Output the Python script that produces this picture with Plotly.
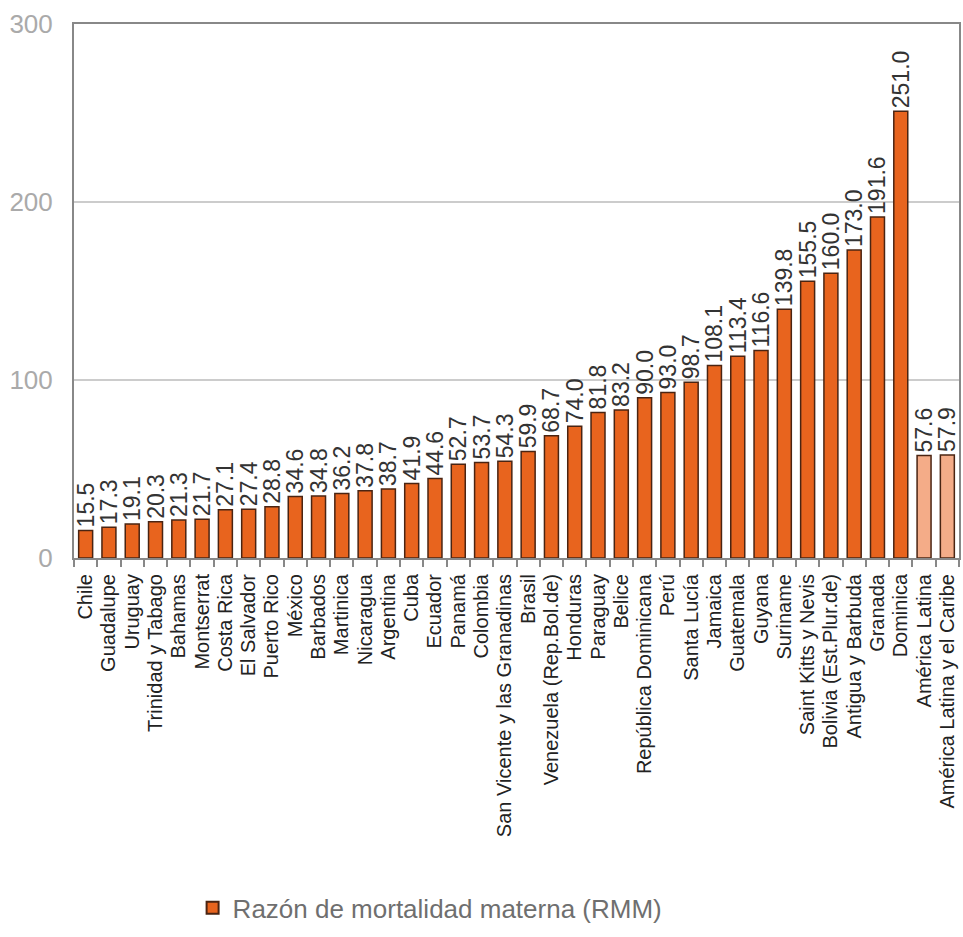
import plotly.graph_objects as go

categories = [
    "Chile", "Guadalupe", "Uruguay", "Trinidad y Tabago", "Bahamas", "Montserrat",
    "Costa Rica", "El Salvador", "Puerto Rico", "México", "Barbados", "Martinica",
    "Nicaragua", "Argentina", "Cuba", "Ecuador", "Panamá", "Colombia",
    "San Vicente y las Granadinas", "Brasil", "Venezuela (Rep.Bol.de)", "Honduras",
    "Paraguay", "Belice", "República Dominicana", "Perú", "Santa Lucía", "Jamaica",
    "Guatemala", "Guyana", "Suriname", "Saint Kitts y Nevis", "Bolivia (Est.Plur.de)",
    "Antigua y Barbuda", "Granada", "Dominica", "América Latina",
    "América Latina y el Caribe",
]
values = [
    15.5, 17.3, 19.1, 20.3, 21.3, 21.7, 27.1, 27.4, 28.8, 34.6, 34.8, 36.2,
    37.8, 38.7, 41.9, 44.6, 52.7, 53.7, 54.3, 59.9, 68.7, 74.0, 81.8, 83.2,
    90.0, 93.0, 98.7, 108.1, 113.4, 116.6, 139.8, 155.5, 160.0, 173.0, 191.6,
    251.0, 57.6, 57.9,
]
aggregates = ["América Latina", "América Latina y el Caribe"]
series_name = "Razón de mortalidad materna (RMM)"
y_ticks = [0, 100, 200, 300]

colors = ["#F4AC88" if c in aggregates else "#E8641E" for c in categories]

fig = go.Figure()
fig.add_trace(go.Bar(
    x=categories,
    y=values,
    name=series_name,
    marker=dict(color=colors, line=dict(color="#4a2412", width=1.5)),
    text=[f"{v:.1f}" for v in values],
    textposition="outside",
    textangle=-90,
    constraintext="none",
    cliponaxis=False,
    textfont=dict(family="Liberation Sans, Arial, sans-serif", size=23, color="#333333"),
    showlegend=True,
))

fig.update_layout(
    width=963, height=937,
    margin=dict(l=74, r=2, t=24, b=379),
    paper_bgcolor="white",
    plot_bgcolor="white",
    bargap=0.4,
    font=dict(family="Liberation Sans, Arial, sans-serif"),
    showlegend=True,
    legend=dict(
        orientation="h",
        xref="container", yref="container",
        x=0.2, xanchor="left",
        y=0.031, yanchor="middle",
        font=dict(size=26, color="#6f6f6f"),
        itemsizing="constant",
    ),
)
fig.update_xaxes(
    type="category",
    tickmode="array",
    tickvals=categories,
    ticktext=categories,
    tickangle=-90,
    tickfont=dict(size=20, color="#222222"),
    ticks="outside",
    tickson="boundaries",
    ticklen=7,
    tickcolor="#888888",
    tickwidth=1.5,
    ticklabelstandoff=6,
    showline=True,
    linecolor="#888888",
    linewidth=2,
    mirror=True,
    showgrid=False,
)
fig.update_yaxes(
    range=[0, 300],
    tickvals=y_ticks,
    tickfont=dict(size=26, color="#aaaaaa"),
    showgrid=True,
    gridcolor="#cccccc",
    gridwidth=1.5,
    showline=True,
    linecolor="#888888",
    linewidth=2,
    mirror=True,
    ticks="",
    ticklabelstandoff=14,
    zeroline=False,
)

fig.write_html("out.html")
